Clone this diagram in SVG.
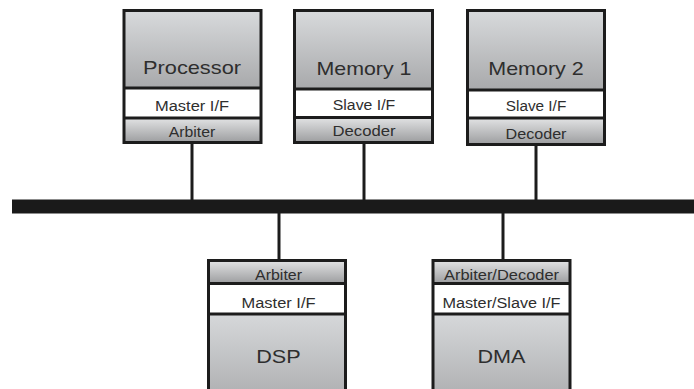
<svg xmlns="http://www.w3.org/2000/svg" width="694" height="389" viewBox="0 0 694 389">
<defs>
<linearGradient id="gMain" x1="0" y1="0" x2="0" y2="1"><stop offset="0" stop-color="#d8dadc"/><stop offset="1" stop-color="#a8a9ab"/></linearGradient>
<linearGradient id="gMainB" x1="0" y1="0" x2="0" y2="1"><stop offset="0" stop-color="#d6d8da"/><stop offset="1" stop-color="#b2b3b5"/></linearGradient>
<linearGradient id="gStrip" x1="0" y1="0" x2="0" y2="1"><stop offset="0" stop-color="#e2e3e4"/><stop offset="1" stop-color="#9c9d9f"/></linearGradient>
</defs>
<style>
.frame{fill:none;stroke:#1c1c1c;stroke-width:3}
.div{stroke:#1c1c1c;stroke-width:3}
.big{font-family:"Liberation Sans",Arial,sans-serif;font-size:19px;fill:#2e2e2e;text-anchor:middle}
.sm{font-family:"Liberation Sans",Arial,sans-serif;font-size:14px;fill:#2e2e2e;text-anchor:middle}
.con{stroke:#1c1c1c;stroke-width:3;fill:none}
</style>
<rect width="694" height="389" fill="#ffffff"/>
<g id="connectors">
<rect x="12" y="199.5" width="682" height="14" fill="#1a1a1a"/>
<line class="con" x1="192" y1="143" x2="192" y2="200"/>
<line class="con" x1="364" y1="143" x2="364" y2="200"/>
<line class="con" x1="536" y1="145" x2="536" y2="200"/>
<line class="con" x1="279" y1="213" x2="279" y2="260"/>
<line class="con" x1="503" y1="213" x2="503" y2="260"/>
</g>
<g id="processor">
<rect x="124" y="10.5" width="137" height="77.5" fill="url(#gMain)"/>
<rect x="124" y="88" width="137" height="30" fill="#ffffff"/>
<rect x="124" y="118" width="137" height="24.5" fill="url(#gStrip)"/>
<line class="div" x1="124" y1="88" x2="261" y2="88"/>
<line class="div" x1="124" y1="118" x2="261" y2="118"/>
<rect class="frame" x="124" y="10.5" width="137" height="132"/>
<text class="big" x="192" y="74" textLength="98" lengthAdjust="spacingAndGlyphs">Processor</text>
<text class="sm" x="192" y="111" textLength="74" lengthAdjust="spacingAndGlyphs">Master I/F</text>
<text class="sm" x="192" y="136.5" textLength="46.5" lengthAdjust="spacingAndGlyphs">Arbiter</text>
</g>
<g id="memory1">
<rect x="294.5" y="10.5" width="138" height="78.5" fill="url(#gMain)"/>
<rect x="294.5" y="89" width="138" height="28.5" fill="#ffffff"/>
<rect x="294.5" y="117.5" width="138" height="25" fill="url(#gStrip)"/>
<line class="div" x1="294.5" y1="89" x2="432.5" y2="89"/>
<line class="div" x1="294.5" y1="117.5" x2="432.5" y2="117.5"/>
<rect class="frame" x="294.5" y="10.5" width="138" height="132"/>
<text class="big" x="364" y="75" textLength="95" lengthAdjust="spacingAndGlyphs">Memory 1</text>
<text class="sm" x="364" y="110" textLength="62.5" lengthAdjust="spacingAndGlyphs">Slave I/F</text>
<text class="sm" x="364" y="136" textLength="63" lengthAdjust="spacingAndGlyphs">Decoder</text>
</g>
<g id="memory2">
<rect x="467.5" y="10.5" width="137" height="79.5" fill="url(#gMain)"/>
<rect x="467.5" y="90" width="137" height="28" fill="#ffffff"/>
<rect x="467.5" y="118" width="137" height="26.5" fill="url(#gStrip)"/>
<line class="div" x1="467.5" y1="90" x2="604.5" y2="90"/>
<line class="div" x1="467.5" y1="118" x2="604.5" y2="118"/>
<rect class="frame" x="467.5" y="10.5" width="137" height="134"/>
<text class="big" x="536" y="74.5" textLength="95.5" lengthAdjust="spacingAndGlyphs">Memory 2</text>
<text class="sm" x="536" y="110.5" textLength="60.5" lengthAdjust="spacingAndGlyphs">Slave I/F</text>
<text class="sm" x="536" y="139" textLength="61" lengthAdjust="spacingAndGlyphs">Decoder</text>
</g>
<g id="dsp">
<rect x="208.5" y="260.5" width="137" height="23" fill="url(#gStrip)"/>
<rect x="208.5" y="283.5" width="137" height="30.5" fill="#ffffff"/>
<rect x="208.5" y="314" width="137" height="76" fill="url(#gMainB)"/>
<line class="div" x1="208.5" y1="283.5" x2="345.5" y2="283.5"/>
<line class="div" x1="208.5" y1="314" x2="345.5" y2="314"/>
<rect class="frame" x="208.5" y="260.5" width="137" height="140"/>
<text class="sm" x="278.5" y="279.5" textLength="47" lengthAdjust="spacingAndGlyphs">Arbiter</text>
<text class="sm" x="278.5" y="307.5" textLength="74" lengthAdjust="spacingAndGlyphs">Master I/F</text>
<text class="big" x="278.5" y="362.5" textLength="44.5" lengthAdjust="spacingAndGlyphs">DSP</text>
</g>
<g id="dma">
<rect x="433" y="260.5" width="137" height="23" fill="url(#gStrip)"/>
<rect x="433" y="283.5" width="137" height="30.5" fill="#ffffff"/>
<rect x="433" y="314" width="137" height="76" fill="url(#gMainB)"/>
<line class="div" x1="433" y1="283.5" x2="570" y2="283.5"/>
<line class="div" x1="433" y1="314" x2="570" y2="314"/>
<rect class="frame" x="433" y="260.5" width="137" height="140"/>
<text class="sm" x="501.5" y="279.5" textLength="115" lengthAdjust="spacingAndGlyphs">Arbiter/Decoder</text>
<text class="sm" x="501.5" y="307.5" textLength="118" lengthAdjust="spacingAndGlyphs">Master/Slave I/F</text>
<text class="big" x="501.5" y="362.5" textLength="48" lengthAdjust="spacingAndGlyphs">DMA</text>
</g>
</svg>
